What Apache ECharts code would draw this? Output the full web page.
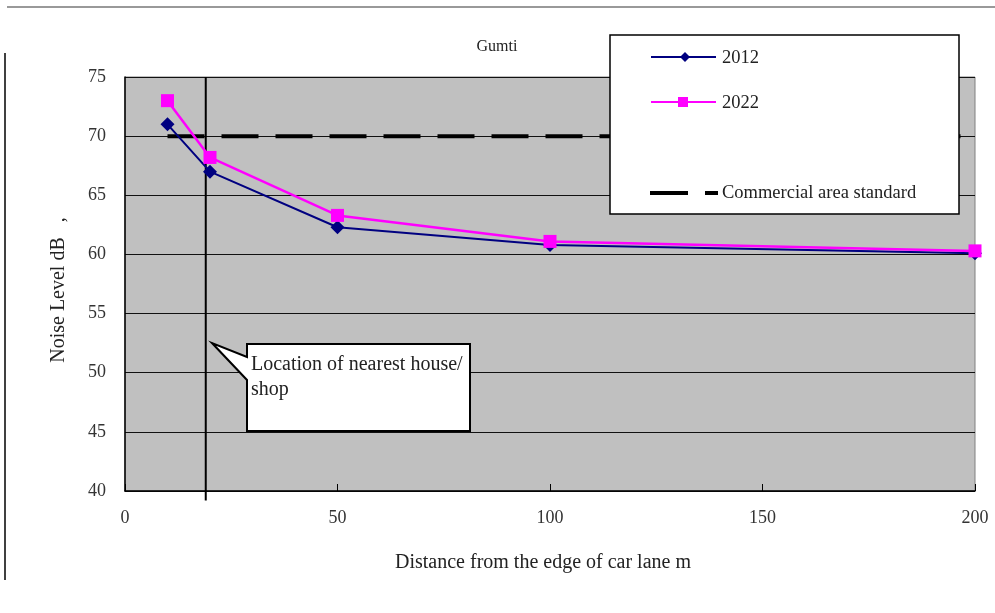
<!DOCTYPE html>
<html>
<head>
<meta charset="utf-8">
<script src="https://cdn.jsdelivr.net/npm/echarts@6/dist/echarts.min.js"></script>
<style>html,body{margin:0;padding:0;background:#fff}#c{width:995px;height:613px}</style>
</head>
<body>
<div id="c"></div>
<script>
var distances = [10, 20, 50, 100, 200];
var noise2012 = [71, 67, 62.3, 60.8, 60.1];
var noise2022 = [73, 68.2, 63.3, 61.1, 60.3];
var standardX = [10, 200];
var standardY = 70;
var houseX = 19;
var xTicks = [0, 50, 100, 150, 200];
var yTicks = [40, 45, 50, 55, 60, 65, 70, 75];

var chart = echarts.init(document.getElementById('c'));
var serif = 'Liberation Serif';
function pairs(xs, ys){ return xs.map(function(x,i){ return [x, ys[i]]; }); }

chart.setOption({
  animation: false,
  backgroundColor: '#fff',
  title: {
    text: 'Gumti', left: 492, top: 34, textAlign: 'center',
    textStyle: { fontFamily: serif, fontSize: 16, fontWeight: 'normal', color: '#222' }
  },
  grid: {
    left: 125, right: 20, top: 77, bottom: 122,
    show: true, backgroundColor: '#c0c0c0', borderColor: '#808080', borderWidth: 1
  },
  xAxis: {
    type: 'value', min: 0, max: 200, interval: 50,
    name: 'Distance from the edge of car lane m',
    nameLocation: 'middle', nameGap: 62,
    nameTextStyle: { fontFamily: serif, fontSize: 20, color: '#222', padding: [0, 14, 0, 0] },
    axisLine: { show: true, lineStyle: { color: '#000', width: 1.5 } },
    axisTick: { show: true, inside: true, length: 7, lineStyle: { color: '#000' } },
    axisLabel: { fontFamily: serif, fontSize: 18, color: '#333', margin: 18 },
    splitLine: { show: false }
  },
  yAxis: {
    type: 'value', min: 40, max: 75, interval: 5,
    name: 'Noise Level dB   ,',
    nameLocation: 'middle', nameGap: 56, nameRotate: 90,
    nameTextStyle: { fontFamily: serif, fontSize: 20, color: '#222', padding: [0, 12, 0, 0] },
    axisLine: { show: true, lineStyle: { color: '#000', width: 1.5 } },
    axisTick: { show: false },
    axisLabel: { fontFamily: serif, fontSize: 18, color: '#333', margin: 19 },
    splitLine: { show: true, lineStyle: { color: '#111', width: 1 } }
  },
  series: [
    {
      name: 'Commercial area standard', type: 'line',
      data: standardX.map(function(x){ return [x, standardY]; }),
      symbol: 'none', z: 3,
      lineStyle: { color: '#000', width: 4, type: [37, 17] }
    },
    {
      name: 'house', type: 'line',
      data: [[houseX, 39.2], [houseX, 75]],
      symbol: 'none', clip: false, z: 4,
      lineStyle: { color: '#000', width: 2 }
    },
    {
      name: '2012', type: 'line', data: pairs(distances, noise2012),
      symbol: 'diamond', symbolSize: 14, z: 5,
      itemStyle: { color: '#000080' },
      lineStyle: { color: '#000080', width: 2 }
    },
    {
      name: '2022', type: 'line', data: pairs(distances, noise2022),
      symbol: 'rect', symbolSize: 13, z: 5, clip: false,
      itemStyle: { color: '#ff00ff' },
      lineStyle: { color: '#ff00ff', width: 2.5 }
    }
  ],
  graphic: [
    { type: 'line', shape: { x1: 7, y1: 7, x2: 995, y2: 7 }, style: { stroke: '#999', lineWidth: 2 } },
    { type: 'line', shape: { x1: 5, y1: 53, x2: 5, y2: 580 }, style: { stroke: '#000', lineWidth: 1.5 } },
    // callout
    { type: 'polygon', z: 100,
      shape: { points: [[247,344],[470,344],[470,431],[247,431],[247,380],[212,343],[247,357]] },
      style: { fill: '#fff', stroke: '#000', lineWidth: 2 } },
    { type: 'text', z: 101, left: 251, top: 352,
      style: { text: 'Location of nearest house/\nshop', fontFamily: serif, fontSize: 20, lineHeight: 25, fill: '#222' } },
    // legend box
    { type: 'rect', z: 100, shape: { x: 610, y: 35, width: 349, height: 179 },
      style: { fill: '#fff', stroke: '#000', lineWidth: 1.5 } },
    { type: 'line', z: 101, shape: { x1: 651, y1: 57, x2: 716, y2: 57 }, style: { stroke: '#000080', lineWidth: 2 } },
    { type: 'polygon', z: 102, shape: { points: [[685,52],[690,57],[685,62],[680,57]] }, style: { fill: '#000080' } },
    { type: 'text', z: 101, left: 722, top: 49, style: { text: '2012', fontFamily: serif, fontSize: 18.5, fill: '#222' } },
    { type: 'line', z: 101, shape: { x1: 651, y1: 102, x2: 716, y2: 102 }, style: { stroke: '#ff00ff', lineWidth: 2 } },
    { type: 'rect', z: 102, shape: { x: 678, y: 97, width: 10, height: 10 }, style: { fill: '#ff00ff' } },
    { type: 'text', z: 101, left: 722, top: 94, style: { text: '2022', fontFamily: serif, fontSize: 18.5, fill: '#222' } },
    { type: 'line', z: 101, shape: { x1: 650, y1: 193, x2: 688, y2: 193 }, style: { stroke: '#000', lineWidth: 4 } },
    { type: 'line', z: 101, shape: { x1: 705, y1: 193, x2: 718, y2: 193 }, style: { stroke: '#000', lineWidth: 4 } },
    { type: 'text', z: 101, left: 722, top: 184, style: { text: 'Commercial area standard', fontFamily: serif, fontSize: 18.5, fill: '#222' } }
  ]
});
</script>
</body>
</html>
